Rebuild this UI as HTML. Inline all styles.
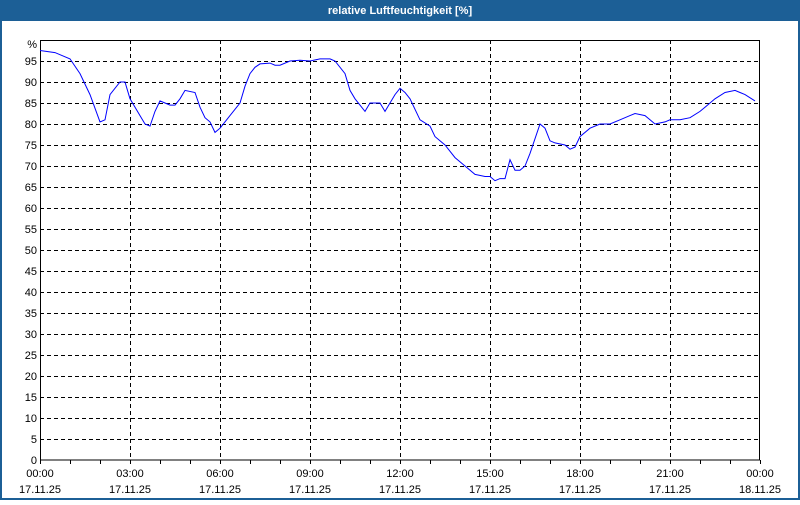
<!DOCTYPE html>
<html><head><meta charset="utf-8"><style>
body{margin:0;width:800px;height:500px;overflow:hidden;background:#fff;font-family:"Liberation Sans",sans-serif}
</style></head><body>
<svg id="s" width="800" height="500" xmlns="http://www.w3.org/2000/svg" font-family="Liberation Sans, sans-serif" font-size="11">
<rect x="0" y="0" width="800" height="500" fill="#1c5f96"/>
<rect x="2" y="21" width="796" height="477" fill="#fff"/>
<text x="400" y="14" fill="#fff" font-weight="bold" text-anchor="middle" font-size="11">relative Luftfeuchtigkeit [%]</text>
<g id="g"></g>
</svg>
<script>
var g=document.getElementById('g'),h='';
function Y(v){return 460-4.2*v;}
for(var v=5;v<=95;v+=5){h+='<line x1="40" x2="760" y1="'+(Y(v)+.5)+'" y2="'+(Y(v)+.5)+'" stroke="#000" stroke-dasharray="4,3"/>';}
for(var i=0;i<=19;i++){var v=i*5;h+='<text x="37" y="'+(Y(v)+4)+'" text-anchor="end" fill="#000">'+v+'</text>';}
h+='<text x="37" y="48" text-anchor="end">%</text>';
for(var k=1;k<8;k++){var x=40+k*90+.5;h+='<line x1="'+x+'" x2="'+x+'" y1="40" y2="460" stroke="#000" stroke-dasharray="4,3"/>';}
for(var k=0;k<=24;k++){var x=40+k*30+.5;h+='<line x1="'+x+'" x2="'+x+'" y1="460" y2="464" stroke="#000"/>';}
var L=['00:00','03:00','06:00','09:00','12:00','15:00','18:00','21:00','00:00'];
for(var k=0;k<=8;k++){var x=40+k*90;h+='<text x="'+x+'" y="477" text-anchor="middle">'+L[k]+'</text><text x="'+x+'" y="493" text-anchor="middle">'+(k==8?'18.11.25':'17.11.25')+'</text>';}
h+='<rect x="40.5" y="40.5" width="719" height="419.5" fill="none" stroke="#000"/>';
var d=[40,97.5,55,97,70,95.5,80,92,90,87,100,80.5,105,81,110,87,120,90,125,90,130,86,140,82,145,80,150,79.5,155,83,160,85.5,165,85,170,84.5,175,84.5,180,86,185,88,195,87.5,200,84,205,81.5,210,80.5,215,78,220,79,230,82,240,85,245,89,250,92,255,93.5,260,94.3,270,94.5,275,94,280,94,290,95,300,95.2,310,95,320,95.5,330,95.5,335,95,345,92,350,88,355,86,365,83,370,85,380,85,385,83,390,85,395,87,400,88.5,405,87.5,410,86,420,81,430,79.5,435,77,445,75,455,72,465,70,475,68,485,67.5,490,67.5,495,66.5,500,67,505,67,510,71.5,515,69,520,69,525,70,530,73,540,80,545,79,550,76,555,75.5,565,75,570,74,575,74.5,580,77,590,79,600,80,610,80,620,81,630,82,635,82.5,645,82,650,81,655,80,665,80.5,670,81,680,81,690,81.5,700,83,705,84,715,86,725,87.5,735,88,740,87.5,745,87,755,85.5];
var p='';for(var i=0;i<d.length;i+=2)p+=d[i]+','+Y(d[i+1]).toFixed(1)+' ';
h+='<polyline points="'+p+'" fill="none" stroke="#0000ff" stroke-width="1"/>';
g.innerHTML=h;
</script>
</body></html>
